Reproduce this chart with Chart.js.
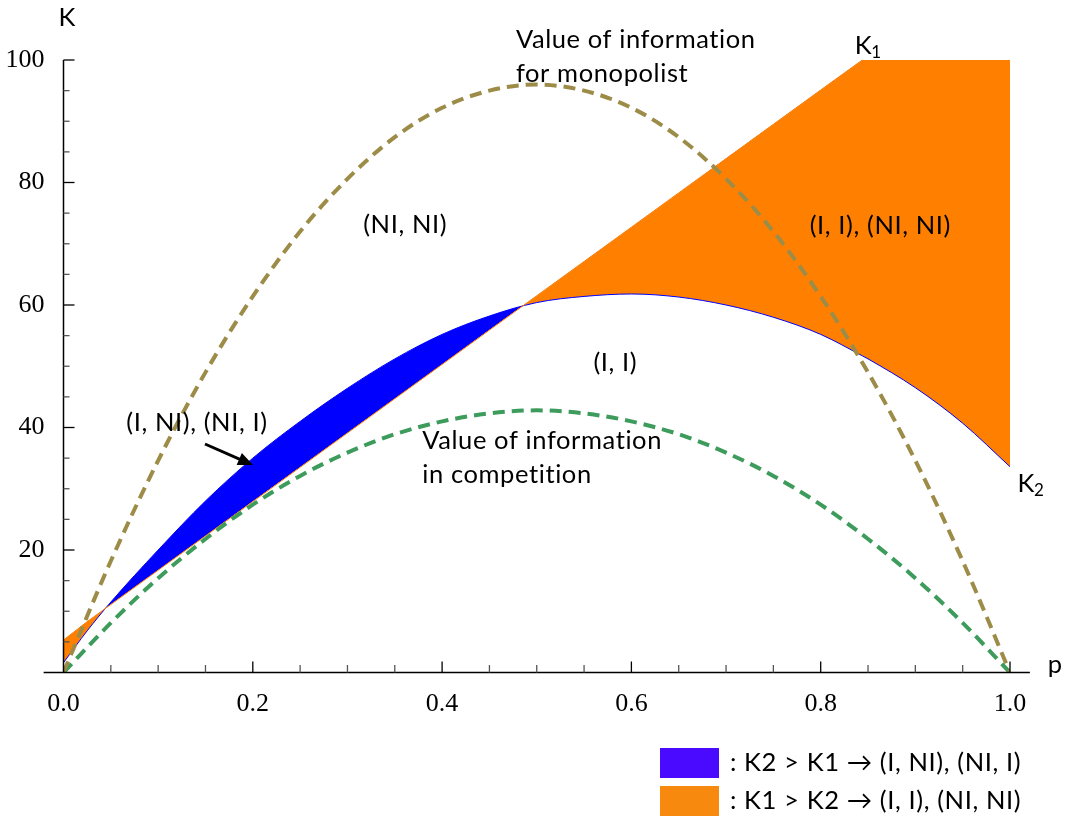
<!DOCTYPE html>
<html>
<head>
<meta charset="utf-8">
<script src="https://cdn.jsdelivr.net/npm/chart.js"></script>
<style>
  html, body { margin: 0; padding: 0; background: #fff; }
</style>
</head>
<body>
<canvas id="chartOne" width="1067" height="817"></canvas>
<script>
// threshold curves K1 / K2
const pGrid = [0, 0.025, 0.05, 0.1, 0.15, 0.2, 0.25, 0.3, 0.35, 0.4, 0.45, 0.5, 0.55, 0.6, 0.65, 0.7, 0.75, 0.8, 0.844, 0.85, 0.9, 0.95, 1.0];
const k1Values = [5.3, 8.3, 11.1, 16.7, 22.3, 27.9, 33.5, 39.1, 44.7, 50.3, 55.9, 61.5, 67.1, 72.7, 78.3, 83.9, 89.5, 95.1, 100, 100, 100, 100, 100];
const k2Values = [1.6, 6.8, 11.5, 20.0, 28.0, 35.0, 41.0, 46.4, 51.2, 55.2, 58.2, 60.4, 61.4, 61.8, 61.3, 60.0, 58.0, 55.2, 51.7, 51.2, 46.5, 40.7, 33.6];

// value of information curves
const pCurve = [0, 0.05, 0.1, 0.15, 0.2, 0.25, 0.3, 0.35, 0.4, 0.45, 0.5, 0.55, 0.6, 0.65, 0.7, 0.75, 0.8, 0.85, 0.9, 0.95, 1.0];
const monopolistValues = [0, 18.2, 34.6, 49.0, 61.4, 72.0, 80.6, 87.4, 92.2, 95.0, 96.0, 95.0, 92.2, 87.4, 80.6, 72.0, 61.4, 49.0, 34.6, 18.2, 0];
const competitionValues = [0, 8.1, 15.4, 21.8, 27.4, 32.1, 35.9, 38.9, 41.0, 42.3, 42.8, 42.3, 41.0, 38.9, 35.9, 32.1, 27.4, 21.8, 15.4, 8.1, 0];

const xTickLabels = ['0.0', '0.2', '0.4', '0.6', '0.8', '1.0'];
const yTickLabels = ['', '20', '40', '60', '80', '100'];
const legendLabels = [': K2 > K1 \u2192 (I, NI), (NI, I)', ': K1 > K2 \u2192 (I, I), (NI, NI)'];
const legendColors = ['#4a0aff', '#f7890f'];

const textFont = '25.5px Lato, "Open Sans", sans-serif';

function pairs(xs, ys) {
    return xs.map((x, i) => ({x: x, y: ys[i]}));
}
function onStep(v, step) {
    return Math.abs(v / step - Math.round(v / step)) < 1e-6;
}

// axes with inward ticks, text notes, arrow and legend
const axesAndNotes = {
    id: 'axesAndNotes',
    afterDatasetsDraw(chart) {
        const ctx = chart.ctx;
        const x = chart.scales.x, y = chart.scales.y;
        const x0 = x.getPixelForValue(0), y0 = y.getPixelForValue(0);
        ctx.save();
        ctx.strokeStyle = '#000';
        ctx.lineWidth = 1.5;
        ctx.beginPath();
        ctx.moveTo(x.getPixelForValue(-0.021), y0);
        ctx.lineTo(x.getPixelForValue(1.021), y0);
        ctx.moveTo(x0, y0);
        ctx.lineTo(x0, y.getPixelForValue(100));
        ctx.stroke();

        ctx.lineWidth = 1.3;
        x.ticks.forEach(t => {
            if (t.value <= 0) return;
            const major = onStep(t.value, 0.2);
            const px = x.getPixelForValue(t.value);
            ctx.strokeStyle = major ? '#000' : '#555';
            ctx.beginPath();
            ctx.moveTo(px, y0);
            ctx.lineTo(px, y0 - (major ? 11 : 7.5));
            ctx.stroke();
        });
        y.ticks.forEach(t => {
            if (t.value <= 0) return;
            const major = onStep(t.value, 20);
            const py = y.getPixelForValue(t.value);
            ctx.strokeStyle = major ? '#000' : '#555';
            ctx.beginPath();
            ctx.moveTo(x0, py);
            ctx.lineTo(x0 + (major ? 11 : 6), py);
            ctx.stroke();
        });

        ctx.fillStyle = '#000';
        ctx.font = textFont;
        ctx.letterSpacing = '0.6px';
        ctx.textBaseline = 'middle';
        const put = (txt, p, k, align) => {
            ctx.textAlign = align || 'center';
            ctx.fillText(txt, x.getPixelForValue(p), y.getPixelForValue(k));
        };
        put('(NI, NI)', 0.361, 73.1);
        put('(I, I), (NI, NI)', 0.863, 72.9);
        put('(I, I)', 0.583, 50.5);
        put('(I, NI), (NI, I)', 0.141, 40.7);
        put('Value of information', 0.379, 37.9, 'left');
        put('in competition', 0.379, 32.2, 'left');
        put('Value of information', 0.478, 103.3, 'left');
        put('for monopolist', 0.478, 97.7, 'left');
        put('p', 1.04, 1.2, 'left');

        // axis / curve names
        const sub = (main, s, px, py) => {
            ctx.textAlign = 'left';
            ctx.font = textFont;
            ctx.fillText(main, px, py);
            const w = ctx.measureText(main).width;
            ctx.font = '17px Lato, "Open Sans", sans-serif';
            ctx.fillText(s, px + w - 1, py + 7);
        };
        ctx.font = textFont;
        ctx.textAlign = 'left';
        ctx.fillText('K', x0 - 5, chart.chartArea.top - 42);
        sub('K', '1', x.getPixelForValue(0.836), y.getPixelForValue(102.3));
        sub('K', '2', x.getPixelForValue(1.008), y.getPixelForValue(30.8));

        // arrow
        const ax1 = 205, ay1 = 444, ax2 = 253, ay2 = 465;
        const ang = Math.atan2(ay2 - ay1, ax2 - ax1);
        ctx.strokeStyle = '#000';
        ctx.lineWidth = 3;
        ctx.beginPath();
        ctx.moveTo(ax1, ay1);
        ctx.lineTo(ax2 - 8 * Math.cos(ang), ay2 - 8 * Math.sin(ang));
        ctx.stroke();
        ctx.beginPath();
        ctx.moveTo(ax2, ay2);
        ctx.lineTo(ax2 - 15 * Math.cos(ang) + 6.5 * Math.sin(ang), ay2 - 15 * Math.sin(ang) - 6.5 * Math.cos(ang));
        ctx.lineTo(ax2 - 15 * Math.cos(ang) - 6.5 * Math.sin(ang), ay2 - 15 * Math.sin(ang) + 6.5 * Math.cos(ang));
        ctx.closePath();
        ctx.fill();

        // legend
        legendLabels.forEach((lbl, i) => {
            const top = 748 + i * 38;
            ctx.fillStyle = legendColors[i];
            ctx.fillRect(660, top, 59, 30);
            ctx.fillStyle = '#000';
            ctx.font = textFont;
            ctx.textAlign = 'left';
            ctx.fillText(lbl, 730, top + 15);
        });
        ctx.restore();
    }
};

const ctx = document.getElementById('chartOne').getContext('2d');

new Chart(ctx, {
    type: 'line',
    data: {
        datasets: [{
            label: 'Value of information for monopolist',
            data: pairs(pCurve, monopolistValues),
            borderColor: '#9c8c48',
            borderWidth: 4,
            borderDash: [12, 7],
            pointRadius: 0,
            cubicInterpolationMode: 'monotone',
            fill: false
        }, {
            label: 'Value of information in competition',
            data: pairs(pCurve, competitionValues),
            borderColor: '#3d9b5c',
            borderWidth: 4,
            borderDash: [12, 7],
            pointRadius: 0,
            cubicInterpolationMode: 'monotone',
            fill: false
        }, {
            label: 'K1',
            data: pairs(pGrid, k1Values),
            borderColor: '#ff8000',
            borderWidth: 1,
            pointRadius: 0,
            tension: 0,
            fill: false
        }, {
            label: 'K2',
            data: pairs(pGrid, k2Values),
            borderColor: '#0000ff',
            borderWidth: 1,
            pointRadius: 0,
            cubicInterpolationMode: 'monotone',
            fill: {target: 2, above: '#0000ff', below: '#ff8000'}
        }]
    },
    options: {
        responsive: false,
        animation: false,
        devicePixelRatio: 1,
        layout: {padding: {top: 60, right: 57, left: 0, bottom: 0}},
        plugins: {
            legend: {display: false},
            tooltip: {enabled: false}
        },
        scales: {
            x: {
                type: 'linear',
                min: 0,
                max: 1,
                grid: {display: false},
                border: {display: false},
                afterFit: s => { s.height = 144.5; },
                ticks: {
                    stepSize: 0.05,
                    autoSkip: false,
                    maxRotation: 0,
                    padding: 8,
                    color: '#000',
                    font: {family: '"Liberation Serif", serif', size: 26},
                    callback: v => onStep(v, 0.2) ? xTickLabels[Math.round(v / 0.2)] : ''
                }
            },
            y: {
                min: 0,
                max: 100,
                grid: {display: false},
                border: {display: false},
                afterFit: s => { s.width = 63.5; },
                ticks: {
                    stepSize: 5,
                    autoSkip: false,
                    padding: 11,
                    color: '#000',
                    font: {family: '"Liberation Serif", serif', size: 26},
                    callback: v => onStep(v, 20) ? yTickLabels[Math.round(v / 20)] : ''
                }
            }
        }
    },
    plugins: [axesAndNotes]
});
</script>
</body>
</html>
